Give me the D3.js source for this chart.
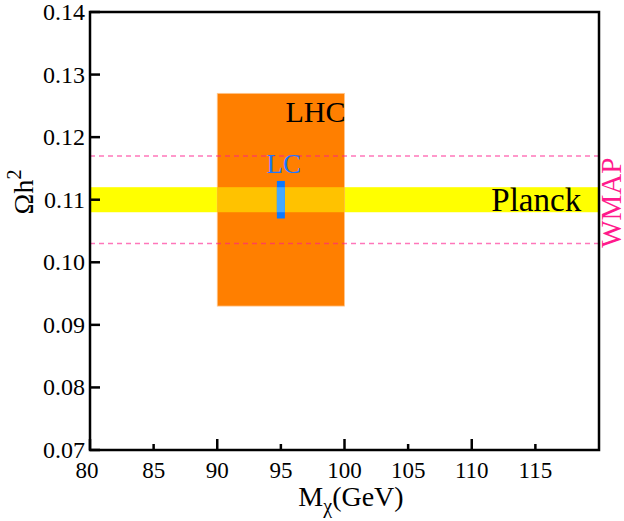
<!DOCTYPE html>
<html>
<head>
<meta charset="utf-8">
<script src="https://cdn.jsdelivr.net/npm/d3@7"></script>
<style>
  html, body { margin: 0; padding: 0; background: #fff; }
  text { font-family: 'Liberation Serif', 'Times New Roman', Times, 'DejaVu Serif', serif; }
</style>
</head>
<body>
<svg id="chart" width="624" height="521"></svg>
<script>
// ---- data ----
const xDomain = [80, 120];
const yDomain = [0.07, 0.14];
const xTicks = [80, 85, 90, 95, 100, 105, 110, 115];
const xMajorTicks = [80, 90, 100, 110];
const yTicks = [0.07, 0.08, 0.09, 0.10, 0.11, 0.12, 0.13, 0.14];
const lhcX = [90, 100];
const lhcY = [0.093, 0.127];
const planckY = [0.108, 0.112];
const wmapY = [0.103, 0.117];
const lcX = [95];
const lcY = [0.107, 0.113];
const labels = ["LHC", "LC", "Planck", "WMAP"];

// ---- layout ----
const FONT = "'Liberation Serif', 'Times New Roman', Times, 'DejaVu Serif', serif";
const svg = d3.select("#chart").attr("font-family", FONT);
const L = 90, R = 599, T = 12, B = 450;
const x = d3.scaleLinear().domain(xDomain).range([L, R]);
const y = d3.scaleLinear().domain(yDomain).range([B, T]);

// Planck band (full width)
svg.append("rect")
  .attr("x", x(xDomain[0])).attr("width", x(xDomain[1]) - x(xDomain[0]))
  .attr("y", y(planckY[1])).attr("height", y(planckY[0]) - y(planckY[1]))
  .attr("fill", "#ffff00");

// LHC box
svg.append("rect")
  .attr("x", x(lhcX[0])).attr("width", x(lhcX[1]) - x(lhcX[0]))
  .attr("y", y(lhcY[1])).attr("height", y(lhcY[0]) - y(lhcY[1]))
  .attr("fill", "#ff7f00")
  .attr("stroke", "#ffc890").attr("stroke-width", 0.8);

// overlap of LHC and Planck
svg.append("rect")
  .attr("x", x(lhcX[0])).attr("width", x(lhcX[1]) - x(lhcX[0]))
  .attr("y", y(planckY[1])).attr("height", y(planckY[0]) - y(planckY[1]))
  .attr("fill", "#ffc200");

// WMAP dashed lines
svg.selectAll("line.wmap").data(wmapY).enter().append("line")
  .attr("class", "wmap")
  .attr("x1", x(xDomain[0])).attr("x2", x(xDomain[1]))
  .attr("y1", d => y(d)).attr("y2", d => y(d))
  .attr("stroke", "#ff1a8c").attr("stroke-opacity", 0.6)
  .attr("stroke-width", 1.5).attr("stroke-dasharray", "5,4");

// LC bar
const lcW = 8;
svg.append("rect")
  .attr("x", x(lcX[0]) - lcW / 2).attr("width", lcW)
  .attr("y", y(lcY[1])).attr("height", y(lcY[0]) - y(lcY[1]))
  .attr("fill", "#0a78ff");
svg.append("rect")
  .attr("x", x(lcX[0]) - lcW / 2).attr("width", lcW)
  .attr("y", y(planckY[1])).attr("height", y(planckY[0]) - y(planckY[1]))
  .attr("fill", "#44a8ff");

// text labels
svg.append("text").text(labels[0])
  .attr("font-family", FONT)
  .attr("x", x(lhcX[1]) + 1).attr("y", y(lhcY[1]) + 29)
  .attr("text-anchor", "end").attr("font-size", 30).attr("fill", "#000");
svg.append("text").text(labels[1])
  .attr("font-family", FONT)
  .attr("x", x(lcX[0]) + 3).attr("y", y(lcY[1]) - 8)
  .attr("text-anchor", "middle").attr("font-size", 27).attr("fill", "#1e78ff");
svg.append("text").text(labels[2])
  .attr("font-family", FONT)
  .attr("x", x(118.6)).attr("y", y(planckY[0]) - 1)
  .attr("text-anchor", "end").attr("font-size", 33).attr("fill", "#000");
svg.append("text").text(labels[3])
  .attr("font-family", FONT)
  .attr("transform", `translate(621,${(y(wmapY[0]) + y(wmapY[1])) / 2 + 3}) rotate(-90)`)
  .attr("text-anchor", "middle").attr("font-size", 29).attr("fill", "#ff1a8c");

// axes frame
const axisColor = "#000";
svg.append("rect")
  .attr("x", L).attr("y", T).attr("width", R - L).attr("height", B - T)
  .attr("fill", "none").attr("stroke", axisColor).attr("stroke-width", 2.5);

// x ticks (inward)
svg.selectAll("line.xt").data(xTicks).enter().append("line")
  .attr("x1", d => x(d)).attr("x2", d => x(d))
  .attr("y1", B).attr("y2", d => B - (xMajorTicks.includes(d) ? 11 : 6))
  .attr("stroke", axisColor).attr("stroke-width", 2.5);
svg.selectAll("text.xl").data(xTicks).enter().append("text")
  .attr("font-family", FONT)
  .attr("x", d => x(d) - (d === xDomain[0] ? 3 : 0)).attr("y", 478)
  .attr("text-anchor", "middle").attr("font-size", 23)
  .text(d => d);

// y ticks (inward)
svg.selectAll("line.yt").data(yTicks).enter().append("line")
  .attr("x1", L).attr("x2", L + 10)
  .attr("y1", d => y(d)).attr("y2", d => y(d))
  .attr("stroke", axisColor).attr("stroke-width", 2.5);
svg.selectAll("text.yl").data(yTicks).enter().append("text")
  .attr("font-family", FONT)
  .attr("x", 85).attr("y", d => y(d) + 8)
  .attr("text-anchor", "end").attr("font-size", 24)
  .text(d => d3.format(".2f")(d));

// axis titles
const xt = svg.append("text").attr("x", 351).attr("y", 506)
  .attr("font-family", FONT)
  .attr("text-anchor", "middle").attr("font-size", 28);
xt.append("tspan").text("M");
xt.append("tspan").text("χ").attr("font-size", 20).attr("dy", 7);
xt.append("tspan").text("(GeV)").attr("dy", -7);

const yt = svg.append("text")
  .attr("font-family", FONT)
  .attr("transform", "translate(33,192) rotate(-90)")
  .attr("text-anchor", "middle").attr("font-size", 28);
yt.append("tspan").text("Ωh");
yt.append("tspan").text("2").attr("font-size", 20).attr("dy", -12);
</script>
</body>
</html>
